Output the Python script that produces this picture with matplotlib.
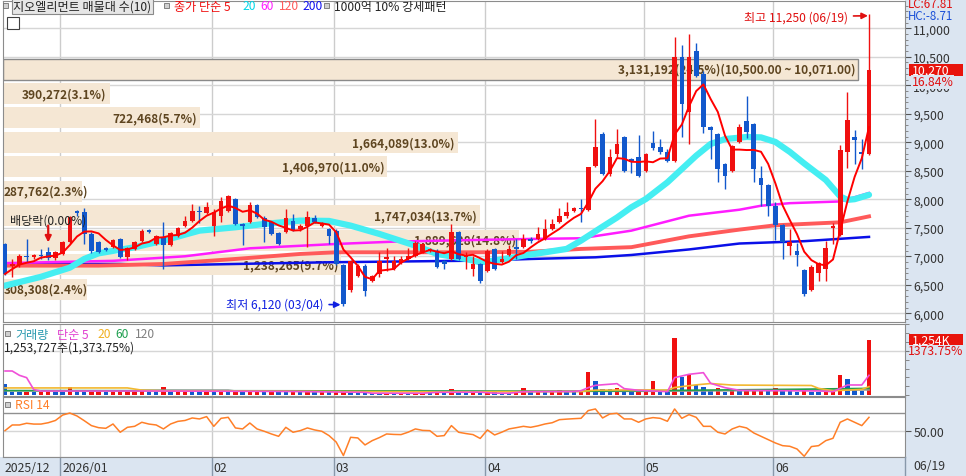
import numpy as np
import pandas as pd
import matplotlib
matplotlib.use('Agg')
import matplotlib.pyplot as plt
from matplotlib.patches import Rectangle
from matplotlib.ticker import MultipleLocator, FuncFormatter
import matplotlib.transforms as mtrans

plt.rcParams['font.family'] = ['Noto Sans CJK KR', 'DejaVu Sans']

# ---- data ----
holidays = ['2025-12-25', '2025-12-31', '2026-01-01', '2026-02-16', '2026-02-17',
            '2026-02-18', '2026-03-02', '2026-05-01', '2026-05-05', '2026-05-25',
            '2026-06-03']
dates = pd.bdate_range('2025-12-18', '2026-06-19')
dates = dates[~dates.isin(pd.to_datetime(holidays))]

opens = [7220, 6830, 6840, 7005, 6990, 7030, 7070, 6965, 7040, 7246,
         7790, 7772, 7392, 7246, 7150, 7160, 7310, 6990, 7130, 7270,
         7460, 7220, 7330, 7200, 7360, 7540, 7620, 7790, 7760, 7540,
         7713, 7800, 8006, 7570, 7600, 7900, 7680, 7600, 7400, 7420,
         7620, 7470, 7540, 7670, 7540, 7480, 7440, 6840, 6400, 6660,
         6836, 6570, 6690, 6960, 6780, 6880, 6950, 7010, 7070, 7100,
         7100, 6920, 6950, 7420, 6990, 6780, 6870, 6750, 7130, 6900,
         7020, 7170, 7160, 7310, 7300, 7300, 7480, 7600, 7700, 7790,
         7850, 7810, 8590, 9145, 8440, 8794, 9086, 8706, 8735, 8500,
         8987, 8910, 8823, 8677, 10490, 9525, 10607, 10198, 9262, 9145,
         8620, 8500, 9000, 9379, 9325, 8368, 8252, 7886, 7555, 7178,
         7100, 6760, 6412, 6702, 6783, 7500, 7381, 8832, 9093, 8832,
         8790]
highs = [7240, 6950, 7040, 7300, 7040, 7130, 7170, 7100, 7270, 7700,
         7820, 7840, 7420, 7260, 7170, 7300, 7320, 7160, 7260, 7480,
         7480, 7380, 7600, 7420, 7520, 7710, 7920, 7890, 7950, 7830,
         8040, 8080, 8030, 7590, 7960, 7920, 7700, 7620, 7420, 7830,
         7740, 7560, 7800, 7720, 7610, 7500, 7480, 6860, 6940, 6870,
         6860, 6680, 7070, 7140, 7000, 7010, 7150, 7260, 7240, 7150,
         7130, 6940, 7570, 7440, 7080, 7010, 6890, 7130, 7150, 7100,
         7200, 7300, 7390, 7330, 7520, 7650, 7650, 7840, 7950, 7870,
         8000, 8570, 9410, 9180, 8880, 9230, 9110, 8720, 9120, 8820,
         9200, 9050, 8880, 10840, 10700, 10900, 10750, 10250, 9290, 9160,
         8640, 8960, 9320, 9820, 9340, 8580, 8270, 7960, 7570, 7470,
         7240, 6780, 6840, 6900, 7265, 7590, 8950, 9877, 9221, 9064,
         11250]
lows = [6680, 6630, 6810, 6900, 6960, 6950, 6930, 6940, 7020, 7230,
        7700, 7220, 7060, 7050, 7100, 7140, 6970, 6930, 7110, 7250,
        7400, 7200, 6780, 7180, 7340, 7520, 7600, 7590, 7740, 7360,
        7600, 7780, 7550, 7190, 7580, 7670, 7250, 7370, 7190, 7400,
        7440, 7450, 7160, 7580, 7520, 7220, 6850, 6120, 6380, 6640,
        6310, 6550, 6630, 6750, 6760, 6860, 6930, 6990, 7050, 7080,
        6790, 6770, 6930, 6930, 6770, 6660, 6540, 6730, 6760, 6880,
        7000, 6950, 7140, 7240, 7280, 7290, 7460, 7580, 7680, 7770,
        7600, 7800, 8560, 8420, 8410, 8740, 8480, 8470, 8390, 8480,
        8870, 8800, 8650, 8650, 9090, 8970, 10140, 9170, 8700, 8300,
        8180, 8480, 8980, 9080, 8310, 7874, 7710, 7290, 6946, 7030,
        6830, 6310, 6390, 6570, 6570, 7210, 7350, 8542, 8617, 8524,
        8780]
closes = [6690, 6860, 7010, 6985, 7020, 7010, 6965, 7080, 7246, 7685,
          7760, 7392, 7100, 7070, 7115, 7280, 6990, 7150, 7246, 7450,
          7420, 7360, 7190, 7400, 7500, 7620, 7800, 7770, 7870, 7770,
          7977, 8050, 7570, 7540, 7900, 7690, 7510, 7390, 7220, 7680,
          7460, 7540, 7690, 7600, 7590, 7360, 6870, 6170, 6920, 6836,
          6397, 6660, 6924, 6990, 6920, 6950, 7010, 7240, 7220, 7130,
          6810, 6870, 7420, 6950, 7020, 6870, 6570, 7100, 6780, 6950,
          7130, 7130, 7300, 7270, 7390, 7480, 7560, 7700, 7780, 7850,
          7830, 8560, 8910, 8440, 8735, 8970, 8500, 8650, 8413, 8794,
          8893, 8823, 8677, 10490, 9670, 10490, 10168, 9262, 9215, 8530,
          8413, 8940, 9262, 9175, 8540, 8252, 7874, 7555, 7248, 7248,
          7015, 6336, 6818, 6888, 7149, 7530, 8861, 9384, 9035, 8790,
          10270]

# volume, thousand shares
volumes = [243, 70, 64, 75, 68, 78, 82, 70, 66, 185,
           80, 72, 78, 84, 70, 76, 80, 86, 92, 121,
           75, 70, 174, 72, 80, 88, 70, 64, 74, 66,
           76, 70, 80, 66, 74, 82, 70, 78, 66, 60,
           72, 66, 70, 62, 74, 68, 80, 92, 70, 62,
           55, 50, 48, 52, 45, 50, 47, 52, 55, 50,
           58, 54, 128, 70, 62, 70, 65, 72, 60, 45,
           40, 55, 151, 70, 76, 68, 74, 107, 78, 70,
           75, 530, 318, 144, 128, 166, 107, 68, 80, 85,
           318, 113, 75, 1285, 416, 446, 219, 181, 91, 166,
           68, 91, 89, 95, 144, 146, 91, 166, 107, 105,
           68, 144, 62, 60, 75, 78, 446, 370, 113, 91,
           1254]

# moving average lines (index, value)
ma20_i = [0, 5, 9, 11, 13, 18, 22, 27, 32, 36, 41, 45, 48, 52, 57, 60, 64, 66, 68, 72,
          75, 78, 80, 83, 85, 87, 89, 92, 96, 98, 100, 103, 105, 107, 109, 111, 114,
          116, 117, 118, 120]
ma20_v = [6485, 6640, 6800, 6953, 7052, 7158, 7275, 7450, 7509, 7567, 7626, 7620, 7538,
          7392, 7187, 7041, 6953, 6895, 6924, 7012, 7070, 7129, 7275, 7520, 7680, 7860,
          8004, 8297, 8765, 8970, 9057, 9093, 9086, 9006, 8832, 8629, 8339, 8049, 7990,
          8002, 8078]
ma60_i = [0, 15, 25, 34, 46, 54, 64, 73, 80, 87, 95, 102, 105, 109, 116, 120]
ma60_v = [6880, 6920, 7000, 7140, 7216, 7257, 7283, 7304, 7316, 7450, 7712, 7817, 7887,
          7932, 7962, 8110]
ma120_i = [0, 13, 22, 32, 41, 46, 66, 73, 80, 87, 95, 102, 107, 116, 120]
ma120_v = [6836, 6836, 6865, 6953, 7041, 7070, 7070, 7080, 7129, 7160, 7350, 7468, 7544,
           7596, 7700]
ma200_i = [0, 16, 22, 32, 45, 66, 73, 82, 87, 95, 102, 111, 120]
ma200_v = [6865, 6865, 6840, 6865, 6895, 6924, 6953, 6982, 7023, 7120, 7224, 7265, 7340]

vma5_i = [0, 1, 2, 3, 4, 5, 20, 40, 50, 51, 58, 60, 66, 68, 70, 72, 79, 80, 81, 82, 85,
          86, 88, 92, 93, 95, 97, 98, 100, 102, 110, 113, 115, 117, 119, 120]
vma5_v = [544, 544, 446, 393, 121, 90, 90, 80, 60, 40, 40, 60, 65, 40, 40, 75, 80, 98,
          166, 219, 257, 144, 106, 76, 393, 469, 506, 265, 166, 106, 95, 91, 76, 227, 227,
          446]
vma20_i = [0, 17, 19, 22, 40, 60, 80, 82, 88, 92, 93, 96, 98, 101, 112, 113, 115, 119, 120]
vma20_v = [160, 160, 110, 95, 85, 70, 80, 110, 115, 110, 170, 230, 260, 225, 215, 150, 95,
           127, 190]
vma60_i = [0, 40, 80, 93, 110, 120]
vma60_v = [100, 95, 85, 105, 130, 150]
vma120_i = [0, 18, 19, 31, 32, 66, 90, 120]
vma120_v = [95, 95, 110, 110, 90, 80, 85, 115]

rsi = [50.7, 57, 57, 58.9, 58, 58, 59.5, 62, 68, 70.3,
       67, 61.8, 56.3, 54, 53.3, 58.1, 48.9, 54.4, 55.5, 60,
       58, 57, 52.6, 58.1, 61, 62, 64.8, 63.7, 66.3, 55.5,
       64.4, 65.5, 53.7, 52.6, 59.2, 52.6, 50, 47, 44.4, 54.4,
       48.9, 50.7, 53.7, 51.5, 50, 45.2, 38, 23, 43.3, 42.6,
       34.8, 39.6, 43, 47, 46.5, 46.3, 49, 52.6, 51, 50.7,
       44.4, 45.2, 56.3, 48.9, 47.5, 46.3, 42, 51.5, 45.9, 49,
       52.6, 54, 55.5, 54.4, 56, 58.1, 59.5, 62.9, 63.5, 64,
       64.4, 73, 74.8, 64.8, 69.2, 70, 63.7, 63.7, 60, 63.7,
       65.2, 64.4, 61.1, 74.8, 64.4, 68.5, 65.5, 55.5, 55.5, 48.9,
       47, 52.6, 55.5, 53.7, 48.1, 44.4, 40.7, 37, 34, 33.3,
       30.3, 22.2, 33, 34, 39.6, 42.2, 60, 63.7, 60, 56.3,
       65.5]

# volume profile (매물대), top band first
band_top = 10500
band_step = 10500 - 10071
band_vol = [3131192, 390272, 722468, 1664089, 1406970, 287762, 1747034, 1889628,
            1238265, 308308]
band_pct = [24.5, 3.1, 5.7, 13.0, 11.0, 2.3, 13.7, 14.8, 9.7, 2.4]

# ---- styles ----
W, H = 966, 477
RED, BLUE = '#f01010', '#1258cc'
PANEL = '#dbe5f1'
GRID = '#d6d6d6'
SPINE = '#8c8c8c'

fig = plt.figure(figsize=(W / 100, H / 100), dpi=100)


def px_axes(x0, y0, x1, y1, **kw):
    return fig.add_axes([x0 / W, 1 - y1 / H, (x1 - x0) / W, (y1 - y0) / H], **kw)


def ftext(x, y, s, **kw):
    kw.setdefault('va', 'center')
    kw.setdefault('fontsize', 8.7)
    return fig.text(x / W, 1 - y / H, s, **kw)


def bullet(x, y):
    fig.patches.append(Rectangle((x / W, 1 - (y + 2.5) / H), 5 / W, 5 / H,
                                 transform=fig.transFigure, fc='#d0d0d0',
                                 ec='#707070', lw=0.6))


fig.patches.append(Rectangle((905 / W, 0), 61 / W, 1, transform=fig.transFigure,
                             fc=PANEL, ec='none', zorder=-2))
fig.patches.append(Rectangle((0, 0), 1, 19 / H, transform=fig.transFigure,
                             fc=PANEL, ec='none', zorder=-2))

ax = px_axes(3, 2, 905, 323)
ax_v = px_axes(3, 325, 905, 397, sharex=ax)
ax_r = px_axes(3, 398, 905, 458, sharex=ax)
ax_d = px_axes(3, 458, 905, 477, sharex=ax)

x = np.arange(len(closes))
ax.set_xlim(-0.28, 125)
ax.set_ylim(5847, 11479)

month_first = [0] + [k for k in range(1, len(dates)) if dates[k].month != dates[k - 1].month]
seps = [k - 0.3 for k in month_first[1:]]

for a in (ax, ax_v, ax_r, ax_d):
    for s in a.spines.values():
        s.set_color(SPINE)
    a.tick_params(axis='x', bottom=False, labelbottom=False)
for a in (ax, ax_v, ax_r):
    for sx in seps:
        a.axvline(sx, color='#cccccc', lw=1, zorder=0)

# ---- main price panel ----
ax.yaxis.tick_right()
ax.set_yticks(range(6000, 11001, 500))
ax.yaxis.set_minor_locator(MultipleLocator(100))
ax.yaxis.set_major_formatter(FuncFormatter(lambda v, p: f'{v:,.0f}'))
ax.tick_params(axis='y', which='major', direction='out', length=4, pad=2,
               labelsize=8.8, colors='#555555', labelcolor='#333333')
ax.tick_params(axis='y', which='minor', direction='out', length=2, colors='#777777')
ax.grid(axis='y', color=GRID, lw=1)
ax.set_axisbelow(True)

max_vol = max(band_vol)
left = ax.get_xlim()[0]
band_labels = []
for k, (bv, bp) in enumerate(zip(band_vol, band_pct)):
    center = band_top - band_step * (k + 0.5)
    width = bv / max_vol * 118.8
    ax.barh(center, width, left=left, height=band_step * 0.86, color='#f5e7d4',
            edgecolor='#8a8a8a' if k == 0 else 'none', lw=1, zorder=1)
    label = f'{bv:,}({bp:.1f}%)'
    if k == 0:
        label += f'({band_top:,.2f} ~ {band_top - band_step:,.2f})'
    t = ax.annotate(label, xy=(left + width, center), xytext=(-3, 0),
                    textcoords='offset pixels', ha='right', va='center', fontsize=8.6,
                    fontweight='bold', color='#5e4520', zorder=1.5)
    band_labels.append((t, center))

# labels too long for a short band start at the left edge instead
renderer = fig.canvas.get_renderer()
for t, center in band_labels:
    if t.get_window_extent(renderer).x0 < ax.bbox.x0 + 1:
        t.xy = (left, center)
        t.xyann = (1, 0)
        t.set_ha('left')

ax.plot(ma200_i, ma200_v, color='#0a10e8', lw=1.8, zorder=2)
ax.plot(ma120_i, ma120_v, color='#ff5a5a', lw=2.8, zorder=2.1)
ax.plot(ma60_i, ma60_v, color='#ff1cff', lw=1.8, zorder=2.2)
ax.plot(ma20_i, ma20_v, color='#45eef2', lw=4.5, solid_capstyle='round', zorder=2.3)

for i in x:
    o, h, l, c = opens[i], highs[i], lows[i], closes[i]
    col = RED if c >= o else BLUE
    ax.vlines(i, l, h, color=col, lw=1, zorder=3)
    ax.bar(i, max(abs(c - o), 18), bottom=min(o, c), width=0.64, color=col, lw=0, zorder=3.1)

ma5 = pd.Series(closes).rolling(5, min_periods=1).mean()
ax.plot(x, ma5, color='#ff0000', lw=1.4, zorder=3.5)

imax = int(np.argmax(highs))
imin = int(np.argmin(lows))
ax.annotate(f'최고 {highs[imax]:,} ({dates[imax]:%m/%d})', xy=(imax - 0.15, highs[imax] - 30),
            xytext=(-20, -1), textcoords='offset pixels', ha='right', va='center',
            fontsize=8.7, color='#e01010', zorder=5,
            arrowprops=dict(arrowstyle='-|>', color='#e01010', lw=1.2, mutation_scale=9,
                            shrinkA=2, shrinkB=0))
ax.annotate(f'최저 {lows[imin]:,} ({dates[imin]:%m/%d})', xy=(imin - 0.4, lows[imin] + 30),
            xytext=(-17, 1), textcoords='offset pixels', ha='right', va='center',
            fontsize=8.7, color='#1020e0', zorder=5,
            arrowprops=dict(arrowstyle='-|>', color='#1020e0', lw=1.2, mutation_scale=9,
                            shrinkA=2, shrinkB=0))

i_div = int(np.where(dates == pd.Timestamp('2025-12-29'))[0][0])
ax.annotate('배당락(0.00%)', xy=(i_div, highs[i_div]), xytext=(0, 27),
            textcoords='offset pixels', ha='center', va='center', fontsize=8.7,
            color='#222222', zorder=5)
ax.annotate('', xy=(i_div, highs[i_div]), xytext=(0, 21), textcoords='offset pixels',
            arrowprops=dict(arrowstyle='-|>', color='#e01010', lw=1.6, mutation_scale=9,
                            shrinkA=0, shrinkB=3), zorder=5)

# current price tag on the right scale
tr = mtrans.blended_transform_factory(ax.transAxes, ax.transData)
last, prev = closes[-1], closes[-2]
ax.add_patch(Rectangle((1.0045, last - 110), 0.06, 220, transform=tr, fc='#e8140c',
                       ec='none', clip_on=False, zorder=6))
ax.text(1.0075, last, f'{last:,}', transform=tr, ha='left', va='center', fontsize=8.8,
        color='white', zorder=7, clip_on=False)
ax.annotate(f'{(last / prev - 1) * 100:.2f}%', xy=(1.0075, last), xycoords=tr,
            xytext=(0, -12), textcoords='offset pixels', ha='left', va='center',
            fontsize=8.8, color='#e01010', zorder=7, annotation_clip=False,
            bbox=dict(boxstyle='square,pad=0.05', fc=PANEL, ec='none'))
ftext(908, 5, 'LC:67.81', color='#e01010', fontsize=8.3)
ftext(908, 17, 'HC:-8.71', color='#1a50d8', fontsize=8.3)

# legend row
bullet(3, 6)
ftext(13, 7, '지오엘리먼트 매물대 수(10)', color='#222222',
      bbox=dict(boxstyle='square,pad=0.12', fc='#e6e6e6', ec='#8a8a8a', lw=0.8))
bullet(164, 6)
ftext(174, 7, '종가 단순 5', color='#f01010')
ftext(242, 7, '20', color='#00d8e8')
ftext(260, 7, '60', color='#ff20ff')
ftext(279, 7, '120', color='#ff5a5a')
ftext(302, 7, '200', color='#1010f0')
bullet(324, 6)
ftext(334, 7, '1000억 10% 강세패턴', color='#222222')
fig.patches.append(Rectangle((7 / W, 1 - 30 / H), 12 / W, 12 / H, transform=fig.transFigure,
                             fc='white', ec='#404040', lw=0.8))

# ---- volume panel ----
ax_v.set_ylim(-23, 1610)
vcols = [BLUE] + [RED if volumes[k] > volumes[k - 1] else BLUE for k in range(1, len(volumes))]
ax_v.bar(x, volumes, width=0.6, color=vcols, lw=0, zorder=2)
ax_v.plot(vma120_i, vma120_v, color='#9a9a9a', lw=1.2, zorder=3)
ax_v.plot(vma60_i, vma60_v, color='#22a04a', lw=1.2, zorder=3)
ax_v.plot(vma20_i, vma20_v, color='#f2b830', lw=1.2, zorder=3)
ax_v.plot(vma5_i, vma5_v, color='#f050d8', lw=1.2, zorder=3)
ax_v.yaxis.tick_right()
ax_v.set_yticks([1000])
ax_v.yaxis.set_minor_locator(MultipleLocator(200))
ax_v.tick_params(axis='y', which='both', direction='out', length=3, labelright=False,
                 colors='#777777')
ax_v.grid(axis='y', color=GRID, lw=1)
ax_v.set_axisbelow(True)
trv = mtrans.blended_transform_factory(ax_v.transAxes, ax_v.transData)
ax_v.add_patch(Rectangle((1.0045, volumes[-1] - 120), 0.06, 240, transform=trv,
                         fc='#e8140c', ec='none', clip_on=False, zorder=6))
ax_v.text(1.0075, volumes[-1], f'{volumes[-1]:,}K', transform=trv, ha='left',
          va='center', fontsize=8.8, color='white', zorder=7, clip_on=False)
ftext(908, 352, '1373.75%', color='#e01010', fontsize=8.8)

bullet(5, 334)
ftext(15, 335, '거래량', color='#2a9ab0')
ftext(57, 335, '단순 5', color='#e040d0')
ftext(97, 335, '20', color='#f0b020')
ftext(115, 335, '60', color='#20a050')
ftext(135, 335, '120', color='#808080')
ftext(4, 348, '1,253,727주(1,373.75%)', color='#222222')

# ---- RSI panel ----
ax_r.set_ylim(21.4, 88.1)
ax_r.axhline(70, color='#909090', lw=1, zorder=1)
ax_r.plot(x, rsi, color='#ff7f27', lw=1.1, zorder=3)
ax_r.yaxis.tick_right()
ax_r.set_yticks([50])
ax_r.yaxis.set_major_formatter(FuncFormatter(lambda v, p: f'{v:.2f}'))
ax_r.tick_params(axis='y', direction='out', length=4, pad=2, labelsize=8.8,
                 colors='#555555', labelcolor='#333333')
ax_r.grid(axis='y', color=GRID, lw=1)
ax_r.set_axisbelow(True)
bullet(5, 405)
ftext(15, 406, 'RSI 14', color='#ff7f27')

# ---- date strip ----
ax_d.set_facecolor(PANEL)
ax_d.set_yticks([])
ax_d.set_ylim(0, 1)
for s in ('left', 'right', 'bottom'):
    ax_d.spines[s].set_visible(False)
for k, m in enumerate(month_first):
    sx = ax.get_xlim()[0] if k == 0 else m - 0.3
    if k > 0:
        ax_d.axvline(sx, color='#8898aa', lw=1)
    d = dates[m]
    lab = f'{d:%Y/%m}' if k == 0 or d.month == 1 else f'{d:%m}'
    ax_d.text(sx + 0.25, 0.45, lab, ha='left', va='center', fontsize=8.8, color='#333333')
fig.lines.append(plt.Line2D([905 / W, 905 / W], [0, 19 / H], transform=fig.transFigure,
                            color='#8898aa', lw=1))
ftext(913, 467, f'{dates[-1]:%m/%d}', color='#333333', fontsize=8.8)

fig.savefig('out.png', dpi=100)
